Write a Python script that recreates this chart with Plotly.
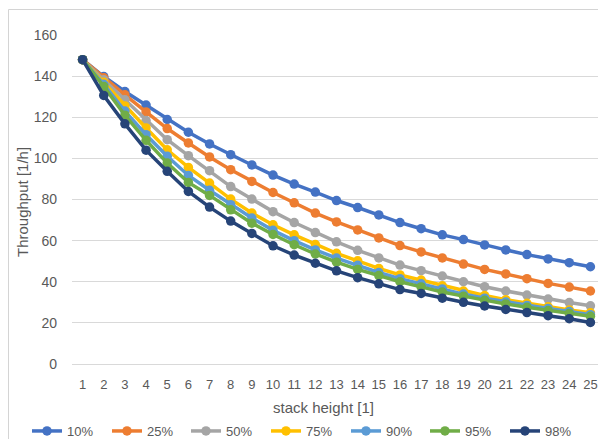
import plotly.graph_objects as go

categories = [str(i) for i in range(1, 26)]
series_names = ["10%", "25%", "50%", "75%", "90%", "95%", "98%"]
s10 = [148, 139.8, 132.5, 125.9, 118.9, 112.7, 107, 101.8, 96.8, 91.9, 87.5, 83.6, 79.5, 76.1, 72.5, 68.8, 65.8, 62.8, 60.5, 57.9, 55.5, 53.2, 51.1, 49.3, 47.3]
s25 = [148, 139.2, 130.9, 122.6, 114.5, 107.5, 100.7, 94.5, 88.8, 83.4, 78.4, 73.4, 69.1, 65.2, 61.3, 57.6, 54.5, 51.6, 48.6, 46.0, 43.8, 41.5, 39.2, 37.4, 35.5]
s50 = [148, 138.2, 128.5, 118.4, 109.1, 101.3, 94, 86.3, 80.2, 74.1, 68.8, 63.9, 59.4, 55.3, 51.6, 48.1, 45.4, 42.8, 40.0, 37.6, 35.5, 33.5, 31.6, 29.9, 28.3]
s75 = [148, 137, 125.5, 114.8, 104.2, 95.6, 88, 80.2, 73.4, 67.7, 62.8, 58.1, 53.8, 50.2, 46.5, 43.3, 40.8, 38, 35.5, 33.3, 31.3, 29.5, 27.8, 26.3, 24.9]
s90 = [148, 136, 123, 111.5, 101, 91.7, 84.5, 77.5, 71, 65, 60, 55.5, 51.5, 48, 44.5, 41.5, 39, 36.5, 34, 32, 30.2, 28.5, 27, 25.5, 24]
s95 = [148, 135, 121, 108.8, 97.7, 88.3, 82, 75, 68.5, 63, 58, 53.5, 49.5, 46, 43, 40, 37.5, 35, 33, 31, 29.2, 27.6, 26, 24.6, 23.2]
s98 = [148, 130.6, 116.8, 104, 93.7, 83.9, 76.3, 69.5, 63.5, 57.5, 53, 49, 45.3, 42, 39, 36.2, 34.3, 32, 30, 28.2, 26.5, 25, 23.5, 22, 20.2]
colors = ["#4472C4", "#ED7D31", "#A5A5A5", "#FFC000", "#5B9BD5", "#70AD47", "#264478"]

all_series = [s10, s25, s50, s75, s90, s95, s98]

FONT = "Liberation Sans"
TXT = "#595959"
L, R, T, B = 64, 13, 27, 83
W, H = 606, 439
pw, ph = W - L - R, H - T - B

legend_ids = ["legend"] + [f"legend{i}" for i in range(2, 8)]
legend_x_px = [19, 99, 178, 258, 338, 417, 497]

fig = go.Figure()
for name, vals, col, lid in zip(series_names, all_series, colors, legend_ids):
    fig.add_trace(go.Scatter(
        x=categories, y=vals, name=name, mode="lines+markers",
        line=dict(color=col, width=3.5),
        marker=dict(color=col, size=9.5),
        legend=lid,
    ))

legend_layout = {}
for lid, lx in zip(legend_ids, legend_x_px):
    legend_layout[lid] = dict(
        orientation="h", xref="container", x=lx / W, xanchor="left",
        yref="container", y=(H - 423) / H, yanchor="middle",
        font=dict(family=FONT, size=13, color=TXT), itemwidth=30,
        bgcolor="rgba(0,0,0,0)", borderwidth=0,
    )

fig.update_layout(
    width=W, height=H,
    margin=dict(l=L, r=R, t=T, b=B, autoexpand=False),
    paper_bgcolor="white", plot_bgcolor="white",
    font=dict(family=FONT, size=13, color=TXT),
    showlegend=True,
    xaxis=dict(type="category", range=[-0.5, 24.5], showgrid=False, showline=True,
               linecolor="#D9D9D9", linewidth=1, ticks="",
               tickfont=dict(size=13, color=TXT), ticklabelstandoff=8, automargin=False,
               zeroline=False),
    yaxis=dict(range=[0, 160], dtick=20, showgrid=True, gridcolor="#D9D9D9", gridwidth=1,
               zeroline=False, showline=False, ticks="", ticklabelstandoff=14, automargin=False,
               tickfont=dict(size=14, color=TXT)),
    annotations=[
        dict(text="Throughput [1/h]", xref="paper", yref="paper",
             x=(14 - L) / pw, y=(ph + T - 194) / ph, xanchor="center", yanchor="middle",
             textangle=-90, showarrow=False, font=dict(family=FONT, size=15, color=TXT)),
        dict(text="stack height [1]", xref="paper", yref="paper",
             x=(315 - L) / pw, y=(ph + T - 400) / ph, xanchor="center", yanchor="middle",
             showarrow=False, font=dict(family=FONT, size=15, color=TXT)),
    ],
    shapes=[dict(type="rect", xref="paper", yref="paper", x0=(0.5 - L) / pw, x1=1.5, y0=-1,
                 y1=(ph + T - 1.5) / ph,
                 line=dict(color="#D4D4D4", width=1), fillcolor="rgba(0,0,0,0)", layer="above")],
    **legend_layout,
)

fig.write_html("out.html")
